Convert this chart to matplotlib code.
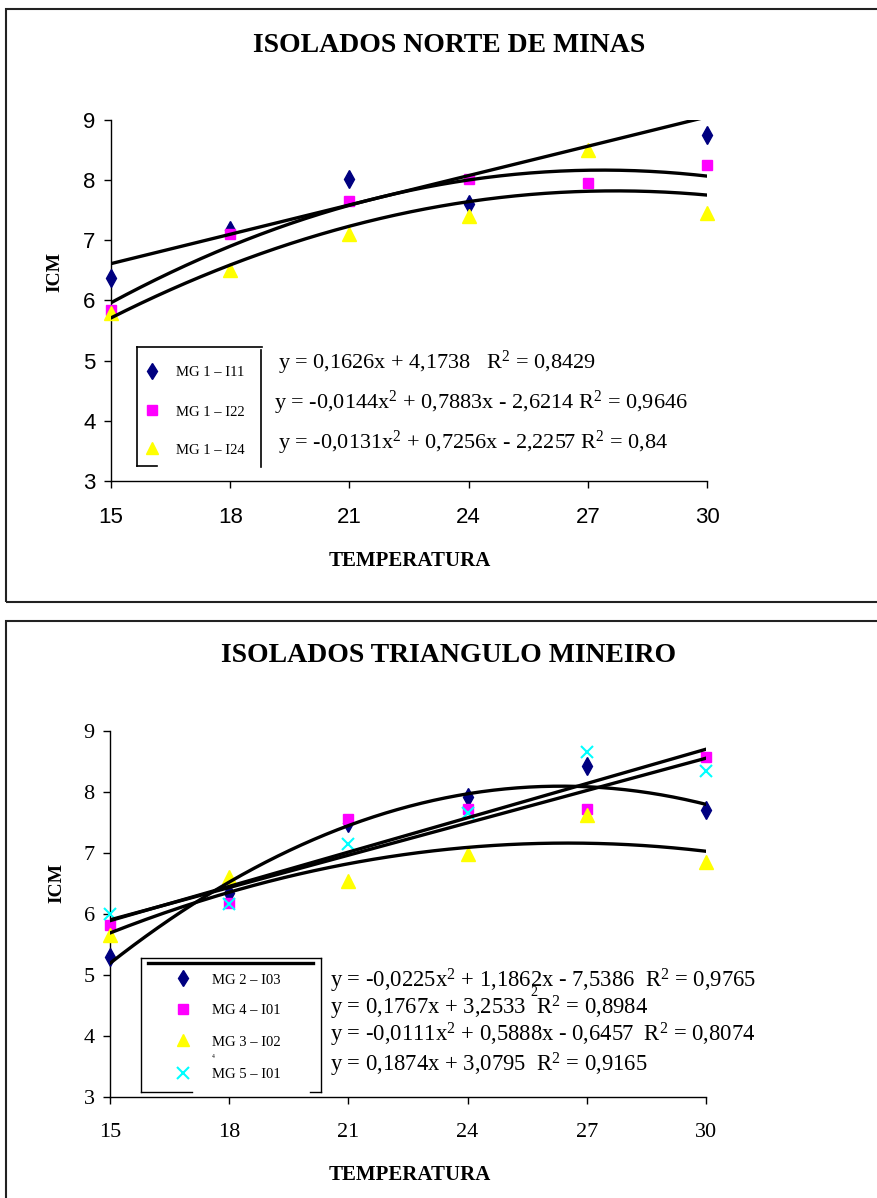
import matplotlib
matplotlib.use("Agg")
import matplotlib.pyplot as plt
from matplotlib.lines import Line2D
from matplotlib.patches import Rectangle
import numpy as np

plt.rcParams['mathtext.fontset'] = 'custom'
plt.rcParams['mathtext.rm'] = 'Liberation Serif'

W, H = 877, 1198

# temperaturas
temp = [15, 18, 21, 24, 27, 30]

# Norte de Minas
nm_labels = ['MG 1 – I11', 'MG 1 – I22', 'MG 1 – I24']
nm_i11 = [6.37, 7.17, 8.02, 7.60, 9.08, 8.75]   # ponto em 27 fica acima do eixo (nao aparece)
nm_i22 = [5.85, 7.10, 7.65, 8.02, 7.95, 8.25]
nm_i24 = [5.80, 6.50, 7.10, 7.40, 8.50, 7.45]
# coeficientes das linhas de tendencia (grau maior primeiro)
nm_fit = [[0.1626, 4.1738], [-0.0144, 0.7883, -2.6214], [-0.0131, 0.7256, -2.2257]]
nm_eqs = [r"y = 0,1626x + 4,1738   $\mathregular{R^2}$ = 0,8429",
          r"y = -0,0144x$\mathregular{^2}$ + 0,7883x - 2,6214 $\mathregular{R^2}$ = 0,9646",
          r"y = -0,0131x$\mathregular{^2}$ + 0,7256x - 2,2257 $\mathregular{R^2}$ = 0,84"]

# Triangulo Mineiro
tm_labels = ['MG 2 – I03', 'MG 4 – I01', 'MG 3 – I02', 'MG 5 – I01']
tm_i03 = [5.30, 6.35, 7.50, 7.92, 8.42, 7.70]
tm_i01a = [5.82, 6.18, 7.55, 7.72, 7.72, 8.57]
tm_i02 = [5.66, 6.60, 6.54, 6.99, 7.63, 6.85]
tm_i01b = [6.00, 6.17, 7.14, 7.65, 8.66, 8.35]
tm_fit = [[-0.0225, 1.1862, -7.5386], [0.1767, 3.2533], [-0.0111, 0.5888, -0.6457], [0.1874, 3.0795]]
tm_eqs = [r"y = -0,0225x$\mathregular{^2}$ + 1,1862x - 7,5386  $\mathregular{R^2}$ = 0,9765",
          r"y = 0,1767x + 3,2533  $\mathregular{R^2}$ = 0,8984",
          r"y = -0,0111x$\mathregular{^2}$ + 0,5888x - 0,6457  $\mathregular{R^2}$ = 0,8074",
          r"y = 0,1874x + 3,0795  $\mathregular{R^2}$ = 0,9165"]

styles = [dict(marker='d', color='#000080', ms=9),
          dict(marker='s', color='#FF00FF', ms=7.5),
          dict(marker='^', color='#FFFF00', ms=9.5),
          dict(marker='x', color='#00FFFF', ms=9, mew=1.5)]


def fx(px):
    return px / W


def fy(py):
    return 1 - py / H


fig = plt.figure(figsize=(W / 100, H / 100), dpi=100)

# molduras
fig.add_artist(Rectangle((fx(6), fy(602)), fx(900), fy(9) - fy(602), transform=fig.transFigure,
                         fill=False, lw=1.5, ec='#222222'))
fig.add_artist(Rectangle((fx(6), fy(1220)), fx(900), fy(621) - fy(1220), transform=fig.transFigure,
                         fill=False, lw=1.5, ec='#222222'))


def setup_axes(rect, tickfont):
    ax = fig.add_axes(rect)
    ax.set_xlim(15, 30)
    ax.set_ylim(3, 9)
    ax.set_xticks(temp)
    ax.set_yticks(range(3, 10))
    for s in ['top', 'right']:
        ax.spines[s].set_visible(False)
    for s in ['left', 'bottom']:
        ax.spines[s].set_linewidth(1)
    ax.tick_params(direction='out', length=5, width=1)
    ax.tick_params(axis='x', pad=14)
    ax.tick_params(axis='y', pad=6)
    for lab in ax.get_xticklabels() + ax.get_yticklabels():
        lab.set_family(tickfont)
        lab.set_fontsize(16)
    return ax


xs = np.linspace(15, 30, 200)

# ---- grafico 1 ----
ax1 = setup_axes([fx(111), fy(481), fx(707) - fx(111), fy(120) - fy(481)], 'Liberation Sans')
for ys, st in zip([nm_i11, nm_i22, nm_i24], styles):
    ys = np.array(ys)
    ys = np.where(ys <= 9, ys, np.nan)  # fora da escala: nao desenha
    ax1.plot(temp, ys, ls='none', mec=st['color'], clip_on=False, zorder=3, **st)
for c in nm_fit:
    ax1.plot(xs, np.polyval(c, xs), color='black', lw=2.4, zorder=4)

fig.text(fx(449), fy(45), 'ISOLADOS NORTE DE MINAS', family='Liberation Serif', weight='bold',
         fontsize=20, ha='center', va='center')
fig.text(fx(55), fy(272), 'ICM', family='Liberation Serif', weight='bold', fontsize=14,
         rotation=90, ha='center', va='center')
fig.text(fx(410), fy(561), 'TEMPERATURA', family='Liberation Serif', weight='bold', fontsize=15,
         ha='center', va='center')

# caixa da legenda (forma irregular como no original)
for xd, yd in [([137, 137], [347, 466]), ([137, 262], [347, 347]), ([261, 261], [350, 467]),
               ([137, 157], [466, 466])]:
    fig.add_artist(Line2D([fx(v) for v in xd], [fy(v) for v in yd], transform=fig.transFigure,
                          color='black', lw=1.2))
for i, (lab, eq) in enumerate(zip(nm_labels, nm_eqs)):
    yy = [371, 410, 448][i]
    st = styles[i]
    fig.add_artist(Line2D([fx(152)], [fy(yy)], transform=fig.transFigure, ls='none',
                          marker=st['marker'], color=st['color'], ms=st['ms'] * 0.9))
    fig.text(fx(176), fy(yy + 2), lab, family='Liberation Serif', fontsize=10.5, va='center')
    fig.text(fx([278, 274, 278][i]), fy([363, 403, 443][i]), eq, family='Liberation Serif',
             fontsize=16, va='center')

# ---- grafico 2 ----
ax2 = setup_axes([fx(110), fy(1097), fx(706) - fx(110), fy(731) - fy(1097)], 'Liberation Serif')
for ys, st in zip([tm_i03, tm_i01a, tm_i02, tm_i01b], styles):
    ax2.plot(temp, ys, ls='none', mec=st['color'], zorder=3, clip_on=False, **st)
for c in tm_fit:
    ax2.plot(xs, np.polyval(c, xs), color='black', lw=2.4, zorder=4)

fig.text(fx(449), fy(655), 'ISOLADOS TRIANGULO MINEIRO', family='Liberation Serif', weight='bold',
         fontsize=20, ha='center', va='center')
fig.text(fx(57), fy(883), 'ICM', family='Liberation Serif', weight='bold', fontsize=14,
         rotation=90, ha='center', va='center')
fig.text(fx(410), fy(1175), 'TEMPERATURA', family='Liberation Serif', weight='bold', fontsize=15,
         ha='center', va='center')

for xd, yd in [([141, 141], [958, 1092]), ([141, 321], [958, 958]), ([321, 321], [958, 1092]),
               ([141, 192], [1092, 1092]), ([310, 321], [1092, 1092])]:
    fig.add_artist(Line2D([fx(v) for v in xd], [fy(v) for v in yd], transform=fig.transFigure,
                          color='black', lw=1.0))
fig.add_artist(Line2D([fx(148), fx(313)], [fy(963), fy(963)], transform=fig.transFigure,
                      color='black', lw=2.4))
for i, (lab, eq) in enumerate(zip(tm_labels, tm_eqs)):
    yy = [978, 1009, 1040, 1073][i]
    st = styles[i]
    fig.add_artist(Line2D([fx(183)], [fy(yy)], transform=fig.transFigure, ls='none',
                          marker=st['marker'], color=st['color'], ms=st['ms'] * 0.9,
                          mew=st.get('mew', 1)))
    fig.text(fx(212), fy(yy + 2), lab, family='Liberation Serif', fontsize=10.5, va='center')
    fig.text(fx(330), fy([981, 1008, 1035, 1065][i]), eq, family='Liberation Serif',
             fontsize=16.3, va='center')
fig.text(fx(212), fy(1057), '4', family='Liberation Serif', fontsize=4, va='center')
fig.text(fx(530), fy(992), '2', family='Liberation Serif', fontsize=10, va='center')

fig.savefig('out.png', dpi=100)
